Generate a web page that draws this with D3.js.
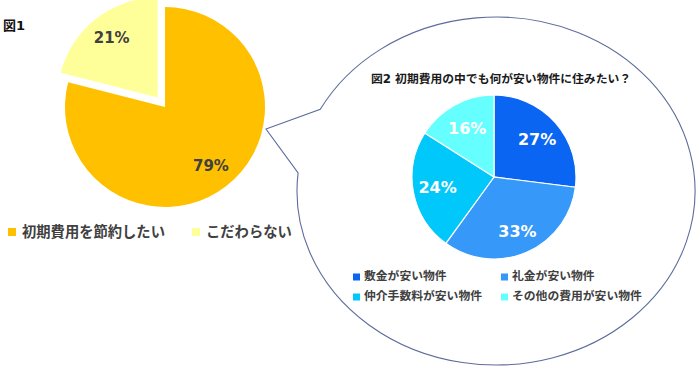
<!DOCTYPE html>
<html><head><meta charset="utf-8">
<script src="https://cdn.jsdelivr.net/npm/d3@7"></script>
<style>html,body{margin:0;padding:0;background:#fff;}svg{display:block;}</style>
</head><body>
<svg id="c" width="700" height="369"></svg>
<script>
const fig1Title = "図1";
const fig1Labels = ["初期費用を節約したい", "こだわらない"];
const fig1Values = [79, 21];
const fig1Colors = ["#FFC000", "#FFFF99"];

const fig2Title = "図2 初期費用の中でも何が安い物件に住みたい？";
const fig2Labels = ["敷金が安い物件", "礼金が安い物件", "仲介手数料が安い物件", "その他の費用が安い物件"];
const fig2Values = [27, 33, 24, 16];
const fig2Colors = ["#0A66F2", "#3698F8", "#00C8FA", "#66FFFF"];

const svg = d3.select("#c");
const FONT = "'DejaVu Sans','Noto Sans CJK JP',sans-serif";

// ---- Figure 1 ----
svg.append("text").attr("x", 3).attr("y", 30).text(fig1Title)
  .attr("font-family", FONT).attr("font-weight", "bold").attr("font-size", 13).attr("fill", "#111");

const pie = d3.pie().sort(null).value(d => d);
const c1 = {x: 165, y: 107}, r1 = 100, explode = 12;
const arc1 = d3.arc().innerRadius(0).outerRadius(r1);
const g1 = svg.append("g").attr("transform", `translate(${c1.x},${c1.y})`);
const arcs1 = pie(fig1Values);
arcs1.forEach((a, i) => {
  const mid = (a.startAngle + a.endAngle) / 2;
  const off = i === 1 ? explode : 0;
  const dx = Math.sin(mid) * off, dy = -Math.cos(mid) * off;
  const gg = g1.append("g").attr("transform", `translate(${dx},${dy})`);
  gg.append("path").attr("d", arc1(a)).attr("fill", fig1Colors[i]);
  const lr = r1 * 0.75;
  gg.append("text").attr("x", Math.sin(mid) * lr).attr("y", -Math.cos(mid) * lr)
    .attr("text-anchor", "middle").attr("dominant-baseline", "central")
    .attr("font-family", FONT).attr("font-weight", "bold").attr("font-size", 15)
    .attr("fill", "#404040").text(fig1Values[i] + "%");
});

const leg1X = [8, 192];
fig1Labels.forEach((l, i) => {
  svg.append("rect").attr("x", leg1X[i]).attr("y", 228).attr("width", 8).attr("height", 8).attr("fill", fig1Colors[i]);
  svg.append("text").attr("x", leg1X[i] + 14).attr("y", 232).attr("dominant-baseline", "central")
    .attr("font-family", FONT).attr("font-weight", "bold").attr("font-size", 14.3)
    .attr("fill", "#404040").text(l);
});

// ---- Speech bubble ----
const E = {cx: 496, cy: 191, rx: 199, ry: 174};
const ep = t => [E.cx + E.rx * Math.cos(t * Math.PI / 180), E.cy + E.ry * Math.sin(t * Math.PI / 180)];
const pA = ep(208), pB = ep(186), tip = [266, 129];
const bubble = `M${pA[0]},${pA[1]} A${E.rx},${E.ry} 0 1 1 ${pB[0]},${pB[1]} L${tip[0]},${tip[1]} Z`;
svg.append("path").attr("d", bubble).attr("fill", "#fff").attr("stroke", "#5E6C9C").attr("stroke-width", 1.1);

// ---- Figure 2 ----
svg.append("text").attr("x", 501).attr("y", 79).attr("text-anchor", "middle").attr("dominant-baseline", "central")
  .attr("font-family", FONT).attr("font-weight", "bold").attr("font-size", 11.8).attr("fill", "#1a1a1a").text(fig2Title);

const c2 = {x: 494, y: 177}, r2 = 82;
const arc2 = d3.arc().innerRadius(0).outerRadius(r2);
const g2 = svg.append("g").attr("transform", `translate(${c2.x},${c2.y})`);
const arcs2 = pie(fig2Values);
g2.selectAll("path").data(arcs2).join("path").attr("d", arc2)
  .attr("fill", (d, i) => fig2Colors[i]).attr("stroke", "#fff").attr("stroke-width", 1.2);
const labelR = [0.7, 0.72, 0.7, 0.68];
arcs2.forEach((a, i) => {
  const mid = (a.startAngle + a.endAngle) / 2;
  const lr = r2 * labelR[i];
  g2.append("text").attr("x", Math.sin(mid) * lr).attr("y", -Math.cos(mid) * lr)
    .attr("text-anchor", "middle").attr("dominant-baseline", "central")
    .attr("font-family", FONT).attr("font-weight", "bold").attr("font-size", 16)
    .attr("fill", "#fff").text(fig2Values[i] + "%");
});

const leg2Pos = [[353, 277], [501, 277], [353, 297], [501, 297]];
fig2Labels.forEach((l, i) => {
  const [x, y] = leg2Pos[i];
  svg.append("rect").attr("x", x).attr("y", y - 3.5).attr("width", 7).attr("height", 7).attr("fill", fig2Colors[i]);
  svg.append("text").attr("x", x + 11).attr("y", y - 1).attr("dominant-baseline", "central")
    .attr("font-family", FONT).attr("font-weight", "bold").attr("font-size", 11.8)
    .attr("fill", "#404040").text(l);
});
</script>
</body></html>
